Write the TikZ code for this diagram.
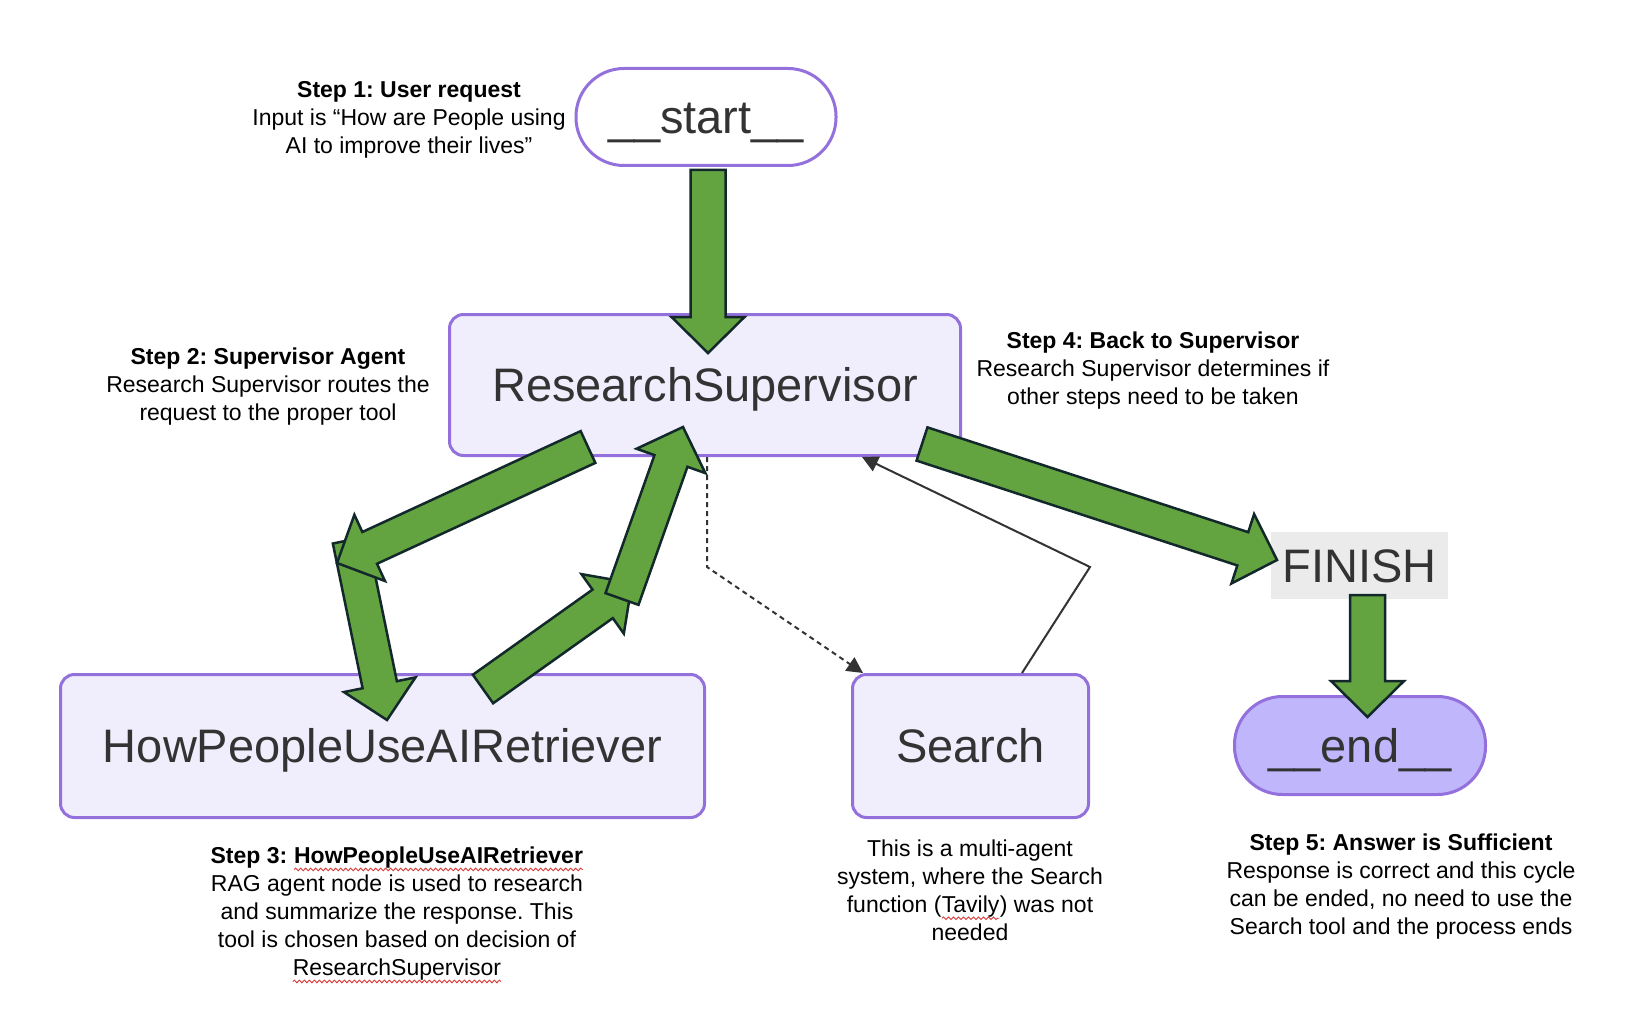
\documentclass[tikz,border=0pt]{standalone}
\usepackage{fontspec}
\setmainfont{Liberation Sans}
\frenchspacing
\usetikzlibrary{calc,arrows.meta,decorations.pathmorphing}
\definecolor{mpurple}{HTML}{9370DB}
\definecolor{mfill}{HTML}{F0EEFD}
\definecolor{endfill}{HTML}{BFB6FC}
\definecolor{finfill}{HTML}{EBEBEB}
\definecolor{ggreen}{HTML}{63A440}
\definecolor{gline}{HTML}{13282A}
\definecolor{ntext}{HTML}{333333}
\definecolor{edgec}{HTML}{333333}
\definecolor{wavered}{HTML}{D93A3A}
\newcommand\redwave[1]{\tikz[baseline=(w.base)]{\node[inner sep=0pt,outer sep=0pt](w){#1};\draw[wavered,line width=0.9pt,decorate,decoration={snake,amplitude=1.3pt,segment length=5pt}] ([yshift=-6pt]w.base west) -- ([yshift=-6pt]w.base east);}}
\newcommand\greenarrow[2]{%
  \filldraw[garrow] let \p1=($(#2)-(#1)$), \n1={atan2(\y1,\x1)}, \n2={veclen(\x1,\y1)} in
    ($(#1)+(\n1+90:17.5pt)$) --
    ($(#1)+(\n1:{\n2-36pt})+(\n1+90:17.5pt)$) --
    ($(#1)+(\n1:{\n2-36pt})+(\n1+90:36.5pt)$) --
    (#2) --
    ($(#1)+(\n1:{\n2-36pt})+(\n1-90:36.5pt)$) --
    ($(#1)+(\n1:{\n2-36pt})+(\n1-90:17.5pt)$) --
    ($(#1)+(\n1-90:17.5pt)$) -- cycle;}
\begin{document}
\begin{tikzpicture}[x=1pt,y=-1pt,
  nodebox/.style={draw=mpurple, line width=3pt, fill=mfill, rounded corners=14pt,
    inner sep=0pt, text=ntext, font=\fontsize{47}{56}\selectfont,
    text height=33pt, text depth=0pt},
  pill/.style={nodebox, rounded corners=48pt},
  note/.style={align=center, font=\fontsize{23}{28}\selectfont, inner sep=0pt, text=black},
  garrow/.style={fill=ggreen, draw=gline, line width=2.5pt, line join=miter},
  medge/.style={draw=edgec, line width=2pt, -{Triangle[length=16pt,width=16pt]}}]
\fill[white] (0,0) rectangle (1638,1016);
\useasboundingbox (0,0) rectangle (1638,1016);

% nodes
\node[pill, fill=white, minimum width=260pt, minimum height=97pt] (start) at (706,117) {\_\_start\_\_};
\node[nodebox, minimum width=511pt, minimum height=141pt] (RS) at (705,385) {ResearchSupervisor};
\node[nodebox, minimum width=644pt, minimum height=143pt] (HPL) at (382.5,746) {HowPeopleUseAIRetriever};
\node[nodebox, minimum width=236pt, minimum height=143pt] (S) at (970.5,746) {Search};
\node[fill=finfill, minimum width=177pt, minimum height=67pt, inner sep=0pt, text=ntext,
  font=\fontsize{47}{56}\selectfont, text height=33pt, text depth=0pt] (F) at (1359.5,565.5) {FINISH};
\node[pill, fill=endfill, minimum width=251pt, minimum height=98pt] (E) at (1360,745.5) {\_\_end\_\_};

% thin mermaid edges
\coordinate (d1) at (707,567);
\coordinate (u1) at (1090,567);
\draw[medge, dash pattern=on 5pt off 4pt] ([xshift=2pt]RS.south) -- (d1) -- ([xshift=12pt]S.north west);
\draw[medge] ([xshift=51.5pt]S.north) -- (u1) -- ([xshift=157pt]RS.south);

% green block arrows
\coordinate (g1s) at (708,170);   \coordinate (g1e) at (708,353);
\coordinate (g2s) at (588,447);   \coordinate (g2e) at (337,563);
\coordinate (g3s) at (350,540);   \coordinate (g3e) at (387,720);
\coordinate (g4s) at (483,689);   \coordinate (g4e) at (632,583);
\coordinate (g5s) at (622,599);   \coordinate (g5e) at (683,427);
\coordinate (g6s) at (922,444);   \coordinate (g6e) at (1277,560);
\coordinate (g7s) at (1367.5,595); \coordinate (g7e) at (1367.5,717);
\greenarrow{g1s}{g1e}
\greenarrow{g6s}{g6e}
\greenarrow{g7s}{g7e}
\greenarrow{g3s}{g3e}
\greenarrow{g2s}{g2e}
\greenarrow{g4s}{g4e}
\greenarrow{g5s}{g5e}

% annotations
\node[note] (n1) at (409,120) {\textbf{Step 1: User request}\\Input is “How are People using\\AI to improve their lives”};
\node[note] (n2) at (268,387) {\textbf{Step 2: Supervisor Agent}\\Research Supervisor routes the\\request to the proper tool};
\node[note] (n4) at (1153,371) {\textbf{Step 4: Back to Supervisor}\\Research Supervisor determines if\\other steps need to be taken};
\node[note] (n3) at (397,915) {\textbf{Step 3: \redwave{HowPeopleUseAIRetriever}}\\RAG agent node is used to research\\and summarize the response. This\\tool is chosen based on decision of\\\redwave{ResearchSupervisor}};
\node[note] (ns) at (970,890) {This is a multi-agent\\system, where the Search\\function (\redwave{Tavily}) was not\\needed};
\node[note] (n5) at (1401,887) {\textbf{Step 5: Answer is Sufficient}\\Response is correct and this cycle\\can be ended, no need to use the\\Search tool and the process ends};
\end{tikzpicture}
\end{document}
